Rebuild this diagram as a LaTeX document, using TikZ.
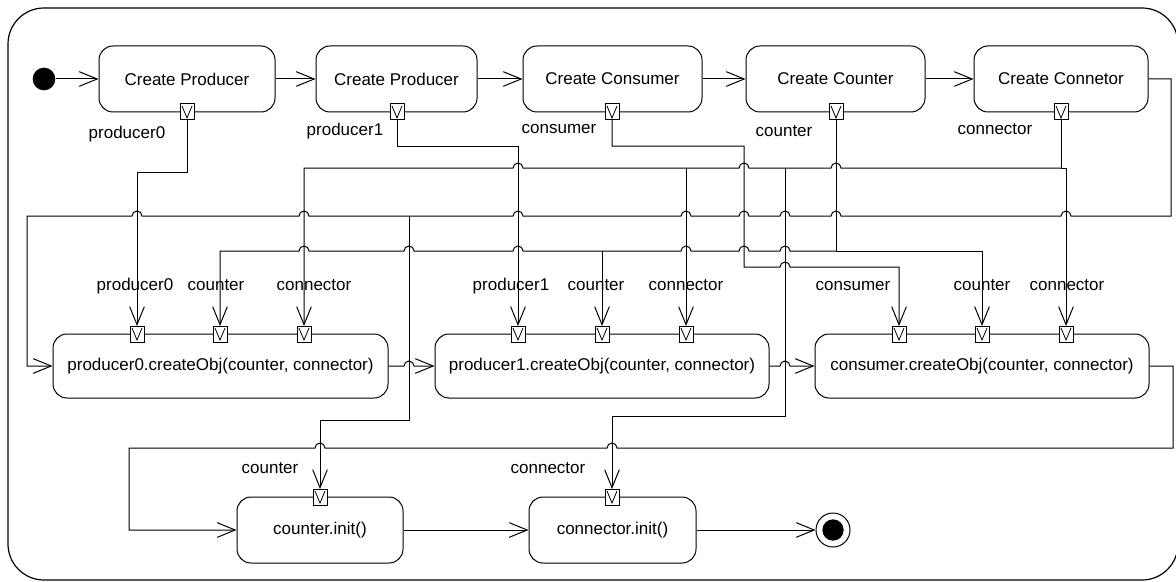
\documentclass[tikz,border=0pt]{standalone}
\usepackage{fontspec}
\setmainfont{Liberation Sans}
\usetikzlibrary{arrows.meta}
\newcommand\hr[2]{-- ({#1-5},#2) arc[start angle=180,end angle=0,radius=3.75pt]}
\newcommand\hl[2]{-- ({#1+5},#2) arc[start angle=0,end angle=180,radius=3.75pt]}
\newcommand\pinat[3]{\node[pinbox] (#1) at (#2,#3) {};
  \draw[line width=0.6pt] ({#2-5},{#3-6}) -- (#2,{#3+6}) -- ({#2+5},{#3-6});}
\begin{document}
\begin{tikzpicture}[x=0.75pt,y=-0.75pt, line width=0.75pt,
  act/.style={draw, rounded corners=10.5pt, inner sep=0pt, minimum height=49.5pt,
    font=\fontsize{12.75}{15}\selectfont},
  pinbox/.style={draw, fill=white, inner sep=0pt, minimum width=10.5pt, minimum height=12pt},
  lbl/.style={inner sep=0pt, font=\fontsize{12.75}{15}\selectfont, text height=9pt, text depth=0pt},
  flow/.style={-{Straight Barb[length=13.5pt,width=11pt]}}]
\useasboundingbox (0,0) rectangle (1176,581);
\draw[line width=0.9pt, rounded corners=27pt] (8,8) rectangle (1178,580);

% top row
\node[circle, fill, inner sep=0pt, minimum size=17pt] (init) at (44,79) {};
\node[act, minimum width=132pt] (cp0) at (187,79) {Create Producer};
\node[act, minimum width=120.75pt] (cp1) at (396.5,79) {Create Producer};
\node[act, minimum width=134.25pt] (cc) at (612.5,79) {Create Consumer};
\node[act, minimum width=134.25pt] (cct) at (835.5,79) {Create Counter};
\node[act, minimum width=130.5pt] (ccn) at (1061,79) {Create Connetor};

% middle row
\node[act, minimum width=251.25pt, minimum height=48pt] (p0c) at (220.5,366) {producer0.createObj(counter, connector)};
\node[act, minimum width=250.5pt, minimum height=48pt] (p1c) at (602,366) {producer1.createObj(counter, connector)};
\node[act, minimum width=250.5pt, minimum height=48pt] (csc) at (982,366) {consumer.createObj(counter, connector)};

% bottom row
\node[act, minimum width=124.5pt] (ci) at (320,530) {counter.init()};
\node[act, minimum width=125.25pt] (cni) at (612.5,530) {connector.init()};
\node[circle, draw, inner sep=0pt, minimum size=25.5pt] (fin) at (833,530) {};
\node[circle, fill, inner sep=0pt, minimum size=16pt] (finin) at (833,530) {};

% control flow
\draw[flow] (init) -- (cp0);
\draw[flow] (cp0) -- (cp1);
\draw[flow] (cp1) -- (cc);
\draw[flow] (cc) -- (cct);
\draw[flow] (cct) -- (ccn);
\draw[flow] (ccn.east) -- (1171,79) -- (1171,216) \hl{1066}{216} \hl{836}{216} \hl{785}{216}
  \hl{744}{216} \hl{686}{216} \hl{518}{216} \hl{304}{216} \hl{137}{216} -- (27,216) -- (27,366) -- (p0c.west);
\draw[flow] (p0c.east) \hr{409}{366} -- (p1c.west);
\draw[flow] (p1c.east) \hr{785}{366} -- (csc.west);
\draw[flow] (csc.east) -- (1173,366) -- (1173,448) \hl{612}{448} \hl{320}{448} -- (129,448) -- (129,530) -- (ci.west);
\draw[flow] (ci) -- (cni);
\draw[flow] (cni) -- (fin);

% data flow
\coordinate (cj) at (836,251);
\coordinate (nj) at (1061,168);
\coordinate (tj) at (409,216);
\draw[flow] (187,120) -- (187,172) -- (137,172) -- (137,326);
\draw[flow] (397,120) -- (397,146) -- (518,146) -- (518,326);
\draw[flow] (612,120) -- (612,146) -- (744,146) -- (744,267) \hr{785}{267} -- (899,267) -- (899,326);
\draw (836,120) -- (cj);
\draw[flow] (cj) \hl{785}{251} \hl{744}{251} \hl{686}{251} -- (602,251) \hl{518}{251} \hl{409}{251} \hl{304}{251} -- (220,251) -- (220,326);
\draw[flow] (602,251) -- (602,326);
\draw[flow] (cj) -- (982,251) -- (982,326);
\draw[flow] (1061,120) -- (nj) -- (1066,168) -- (1066,326);
\draw[flow] (nj) \hl{836}{168} -- (785,168) \hl{744}{168} -- (686,168) \hl{518}{168} -- (304,168) -- (304,326);
\draw[flow] (686,168) -- (686,326);
\draw[flow] (785,168) -- (785,416) -- (612,416) -- (612,489);
\draw[flow] (tj) -- (409,420) -- (320,420) -- (320,489);

% pins
\pinat{po0}{187}{112}
\pinat{po1}{397}{112}
\pinat{poc}{612}{112}
\pinat{pot}{836}{112}
\pinat{pon}{1061}{112}
\pinat{a01}{137}{334}
\pinat{a02}{220}{334}
\pinat{a03}{304}{334}
\pinat{a11}{518}{334}
\pinat{a12}{602}{334}
\pinat{a13}{686}{334}
\pinat{a21}{899}{334}
\pinat{a22}{982}{334}
\pinat{a23}{1066}{334}
\pinat{b1}{320}{497}
\pinat{b2}{612}{497}

% labels
\node[lbl] (l1) at (127,132) {producer0};
\node[lbl] (l2) at (345,130) {producer1};
\node[lbl] (l3) at (559,127) {consumer};
\node[lbl] (l4) at (784,131) {counter};
\node[lbl] (l5) at (995,128) {connector};
\node[lbl] (l6) at (135,284) {producer0};
\node[lbl] (l7) at (216,284) {counter};
\node[lbl] (l8) at (314,284) {connector};
\node[lbl] (l9) at (511,284) {producer1};
\node[lbl] (l10) at (596,284) {counter};
\node[lbl] (l11) at (686,284) {connector};
\node[lbl] (l12) at (853,284) {consumer};
\node[lbl] (l13) at (982,284) {counter};
\node[lbl] (l14) at (1067,284) {connector};
\node[lbl] (l15) at (270,467) {counter};
\node[lbl] (l16) at (548,467) {connector};
\end{tikzpicture}
\end{document}
